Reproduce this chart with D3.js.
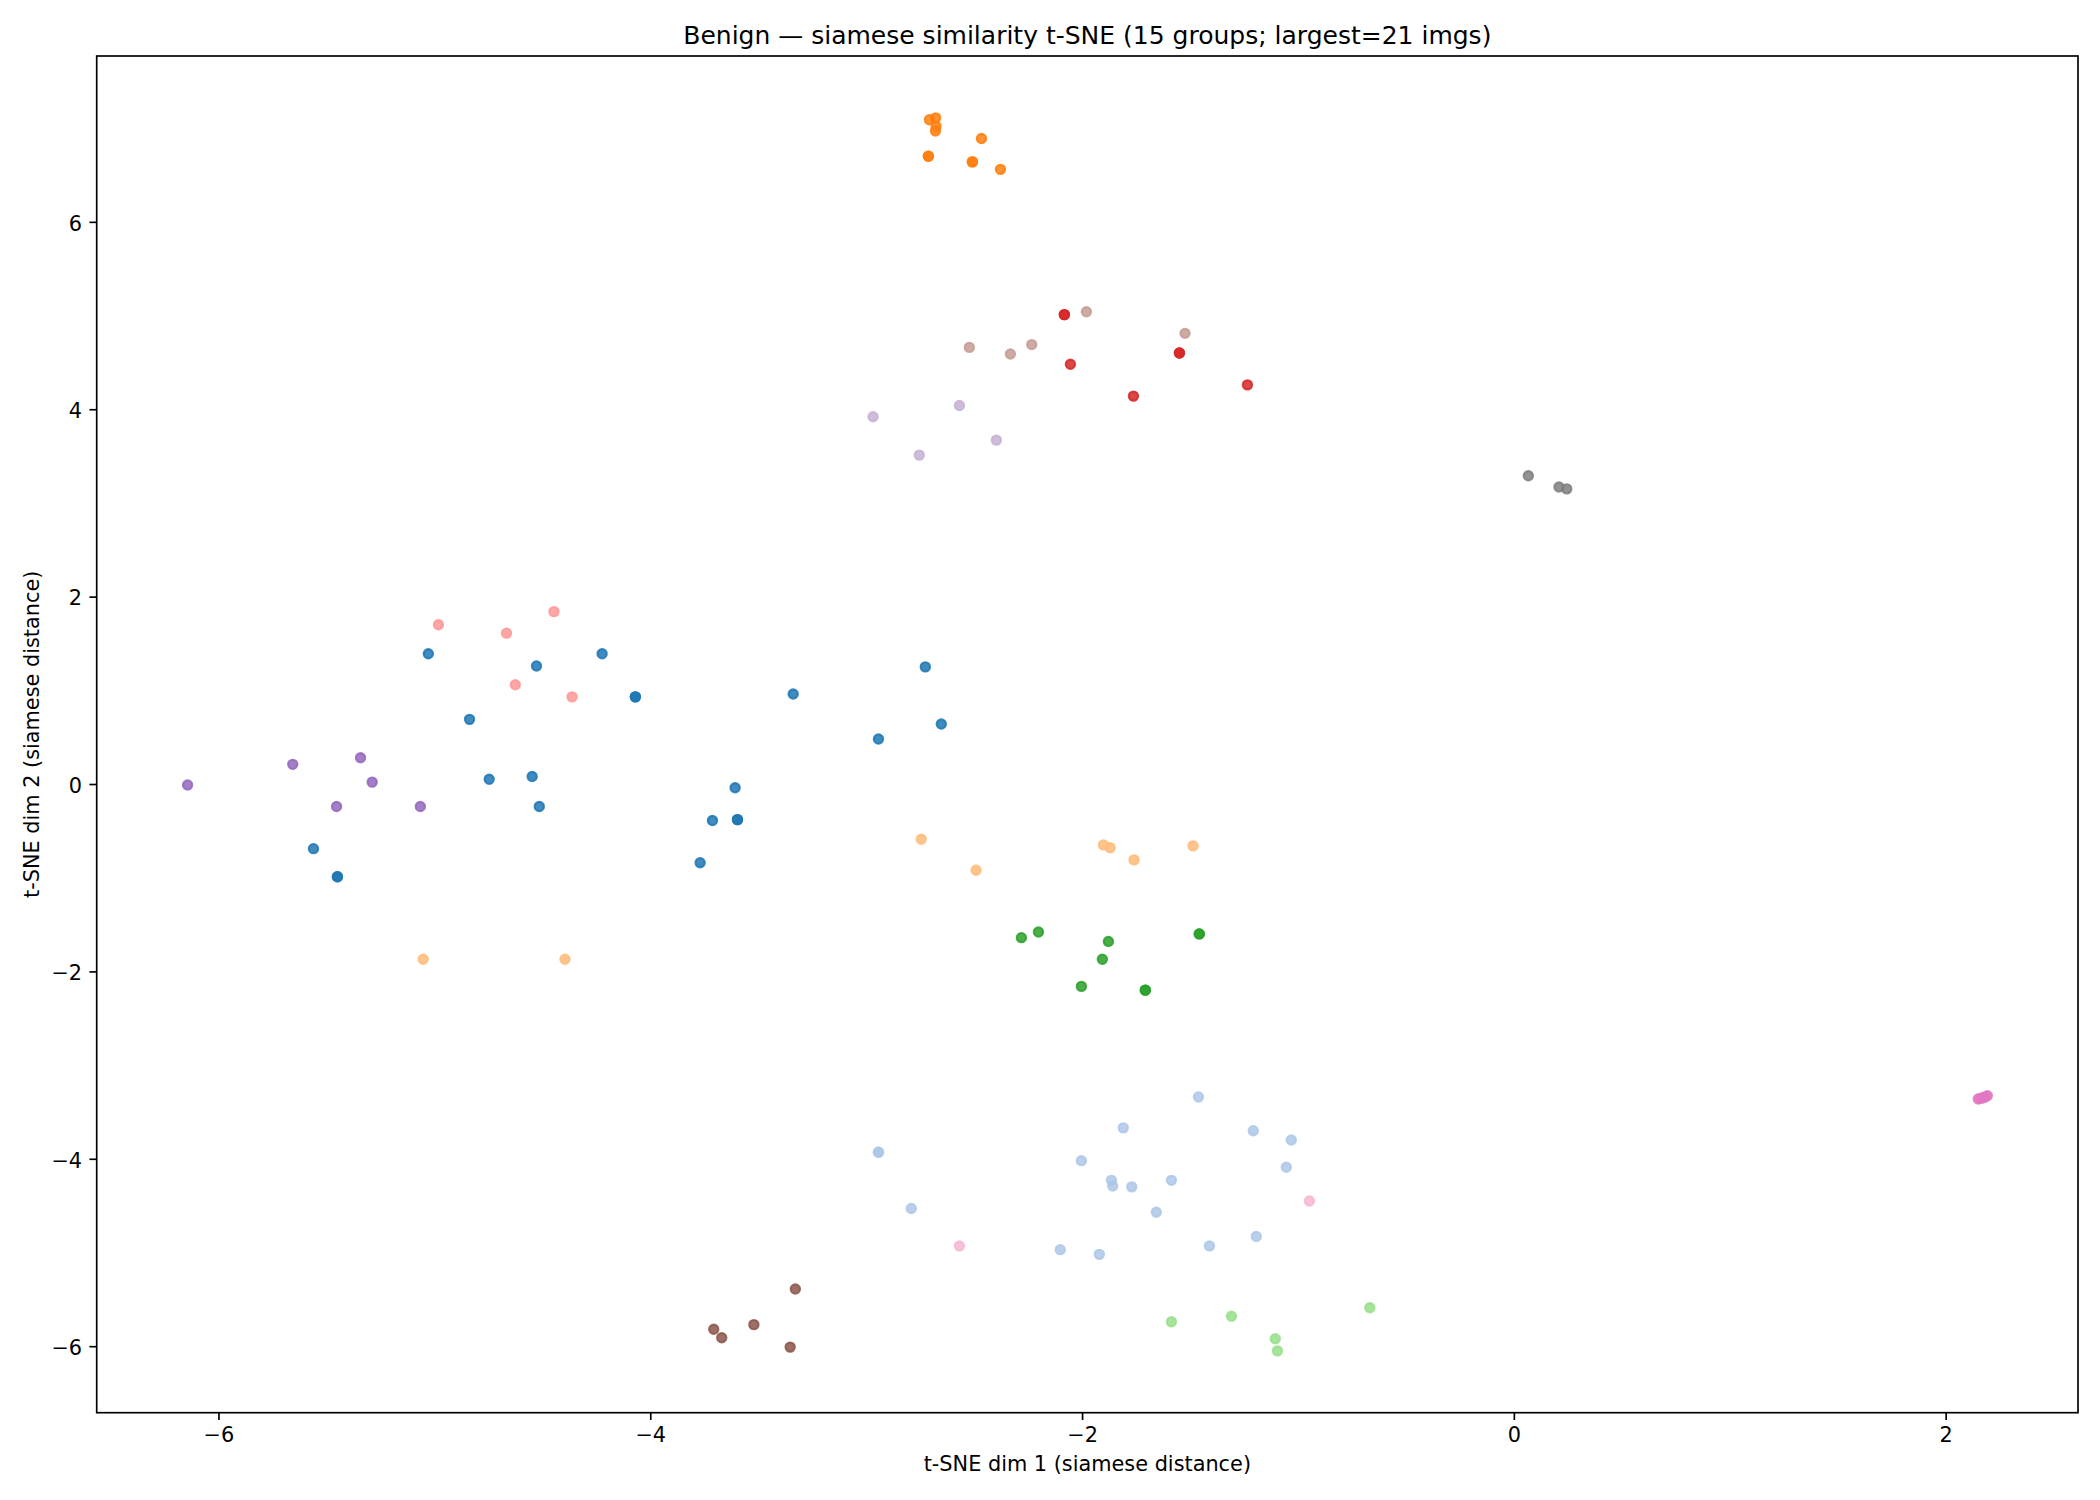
<!DOCTYPE html>
<html>
<head>
<meta charset="utf-8">
<script src="https://cdn.jsdelivr.net/npm/d3@7"></script>
<style>
    body { margin: 0; background: #fff; }
    .chart { width: 2100px; height: 1500px; }
    text { font-family: "DejaVu Sans", sans-serif; fill: #000; }
</style>
</head>
<body>
<div class="chart"></div>
<script>
//Global object for the chart logic
let chart = {};

//Title and axis labels
const titleText = "Benign \u2014 siamese similarity t-SNE (15 groups; largest=21 imgs)";
const xLabelText = "t-SNE dim 1 (siamese distance)";
const yLabelText = "t-SNE dim 2 (siamese distance)";

const xTicks = [-6, -4, -2, 0, 2];
const yTicks = [-6, -4, -2, 0, 2, 4, 6];
const xDomain = [-6.564, 2.613];
const yDomain = [-6.71, 7.77];

//tab20 palette, one colour per group
const groupColors = [
    "#1f77b4", "#aec7e8", "#ff7f0e", "#ffbb78", "#2ca02c",
    "#98df8a", "#d62728", "#ff9896", "#9467bd", "#c5b0d5",
    "#8c564b", "#c49c94", "#e377c2", "#f7b6d2", "#7f7f7f"
];

//Points per group, [dim1, dim2]
const g00 = [[-5.028, 1.39], [-4.527, 1.26], [-4.223, 1.39], [-4.837, 0.69], [-4.069, 0.93], [-4.069, 0.93],
    [-3.338, 0.96], [-4.746, 0.05], [-4.547, 0.08], [-4.514, -0.24], [-3.607, -0.04], [-3.712, -0.39],
    [-3.596, -0.38], [-3.596, -0.38], [-3.769, -0.84], [-5.560, -0.69], [-5.449, -0.99], [-5.449, -0.99],
    [-2.726, 1.25], [-2.652, 0.64], [-2.943, 0.48]];
const g01 = [[-1.461, -3.34], [-1.809, -3.67], [-1.207, -3.70], [-1.031, -3.80], [-2.943, -3.93], [-2.943, -3.93],
    [-2.003, -4.02], [-1.864, -4.23], [-1.858, -4.29], [-1.770, -4.30], [-1.586, -4.23], [-1.054, -4.09],
    [-1.656, -4.57], [-2.791, -4.53], [-2.101, -4.97], [-1.920, -5.02], [-1.410, -4.93], [-1.193, -4.83]];
const g02 = [[-2.707, 7.09], [-2.678, 7.11], [-2.676, 7.02], [-2.679, 6.97], [-2.466, 6.89],
    [-2.712, 6.70], [-2.712, 6.70], [-2.508, 6.64], [-2.508, 6.64], [-2.378, 6.56]];
const g03 = [[-5.052, -1.87], [-4.395, -1.87], [-2.745, -0.59], [-2.491, -0.92],
    [-1.901, -0.65], [-1.870, -0.68], [-1.759, -0.81], [-1.486, -0.66]];
const g04 = [[-2.281, -1.64], [-2.202, -1.58], [-1.878, -1.68], [-1.906, -1.87], [-1.457, -1.60],
    [-1.457, -1.60], [-2.003, -2.16], [-1.707, -2.20], [-1.707, -2.20]];
const g05 = [[-1.586, -5.74], [-1.308, -5.68], [-1.105, -5.92], [-1.095, -6.05], [-0.667, -5.59]];
const g06 = [[-2.082, 5.01], [-2.082, 5.01], [-2.054, 4.48], [-1.549, 4.60], [-1.549, 4.60],
    [-1.762, 4.14], [-1.234, 4.26]];
const g07 = [[-4.981, 1.70], [-4.666, 1.61], [-4.446, 1.84], [-4.625, 1.06], [-4.362, 0.93]];
const g08 = [[-6.143, -0.01], [-5.656, 0.21], [-5.342, 0.28], [-5.288, 0.02], [-5.453, -0.24], [-5.065, -0.24]];
const g09 = [[-2.568, 4.04], [-2.397, 3.67], [-2.754, 3.51], [-2.968, 3.92]];
const g10 = [[-3.328, -5.39], [-3.706, -5.82], [-3.669, -5.91], [-3.520, -5.77], [-3.352, -6.01]];
const g11 = [[-1.980, 5.04], [-1.523, 4.81], [-2.522, 4.66], [-2.233, 4.69], [-2.332, 4.59]];
const g12 = [[2.151, -3.362], [2.162, -3.355], [2.172, -3.348], [2.183, -3.340], [2.193, -3.327]];
const g13 = [[-2.568, -4.93], [-0.947, -4.45]];
const g14 = [[0.067, 3.29], [0.209, 3.17], [0.245, 3.15]];

const groupData = [g00, g01, g02, g03, g04, g05, g06, g07, g08, g09, g10, g11, g12, g13, g14];


init();

function init() {
    //flatten groups into one list of points with their group index
    chart.points = [];
    groupData.forEach((pts, i) => {
        pts.forEach(p => chart.points.push({ x: p[0], y: p[1], group: i }));
    });

    appendElements();
    update();
}


function update() {
    setDimensions();
    setScales();
    updateElements();
}


function setDimensions() {
    //pt -> px at 150 dpi
    chart.pt = 150 / 72;

    chart.margin = {
        top: 56,
        right: 22,
        bottom: 87.3,
        left: 96.7
    };

    chart.fullWidth = 2100;
    chart.fullHeight = 1500;

    chart.width = chart.fullWidth - chart.margin.left - chart.margin.right;
    chart.height = chart.fullHeight - chart.margin.top - chart.margin.bottom;
}


function setScales() {
    chart.x = d3.scaleLinear()
        .domain(xDomain)
        .range([0, chart.width]);

    chart.y = d3.scaleLinear()
        .domain(yDomain)
        .range([chart.height, 0]);
}


function appendElements() {
    chart.svg = d3.select(".chart").append("svg");

    chart.plot = chart.svg.append("g").attr("class", "chart-g");

    chart.dots = chart.plot.append("g").attr("class", "dots")
        .selectAll("circle.dot")
        .data(chart.points)
        .enter().append("circle")
        .attr("class", "dot");

    chart.frame = chart.plot.append("rect").attr("class", "frame");

    chart.xAxis = chart.plot.append("g").attr("class", "x-axis");
    chart.yAxis = chart.plot.append("g").attr("class", "y-axis");

    chart.title = chart.svg.append("text").attr("class", "title").text(titleText);
    chart.xLabel = chart.svg.append("text").attr("class", "x-label").text(xLabelText);
    chart.yLabel = chart.svg.append("text").attr("class", "y-label").text(yLabelText);
}


function updateElements() {
    let pt = chart.pt;

    chart.svg.attr("width", chart.fullWidth);
    chart.svg.attr("height", chart.fullHeight);

    chart.plot.attr("transform", `translate(${chart.margin.left},${chart.margin.top})`);

    //scatter, s=20 -> marker diameter sqrt(20) pt
    chart.dots
        .attr("cx", d => chart.x(d.x))
        .attr("cy", d => chart.y(d.y))
        .attr("r", Math.sqrt(20) / 2 * pt)
        .style("fill", d => groupColors[d.group])
        .style("fill-opacity", 0.85)
        .style("stroke", d => groupColors[d.group])
        .style("stroke-opacity", 0.85)
        .style("stroke-width", 1.0 * pt);

    chart.frame
        .attr("x", 0)
        .attr("y", 0)
        .attr("width", chart.width)
        .attr("height", chart.height)
        .style("fill", "none")
        .style("stroke", "#000")
        .style("stroke-width", 0.8 * pt);

    chart.xAxis
        .attr("transform", `translate(0,${chart.height})`)
        .call(d3.axisBottom(chart.x)
            .tickValues(xTicks)
            .tickFormat(d3.format("d"))
            .tickSize(3.5 * pt)
            .tickSizeOuter(0)
            .tickPadding(3.5 * pt));

    chart.yAxis
        .call(d3.axisLeft(chart.y)
            .tickValues(yTicks)
            .tickFormat(d3.format("d"))
            .tickSize(3.5 * pt)
            .tickSizeOuter(0)
            .tickPadding(3.5 * pt));

    chart.plot.selectAll(".x-axis .domain, .y-axis .domain").remove();
    chart.plot.selectAll(".tick line")
        .style("stroke", "#000")
        .style("stroke-width", 0.8 * pt);
    chart.plot.selectAll(".tick text")
        .style("font-family", "'DejaVu Sans', sans-serif")
        .style("font-size", (10 * pt) + "px")
        .style("fill", "#000");
    chart.yAxis.selectAll(".tick text").attr("dy", "0.4em");

    let cx = chart.margin.left + chart.width / 2;
    let cy = chart.margin.top + chart.height / 2;

    chart.title
        .attr("x", cx)
        .attr("y", chart.margin.top - 6 * pt)
        .attr("text-anchor", "middle")
        .style("font-size", (12 * pt) + "px");

    chart.xLabel
        .attr("x", cx)
        .attr("y", 1471)
        .attr("text-anchor", "middle")
        .style("font-size", (10 * pt) + "px");

    chart.yLabel
        .attr("transform", `translate(39,${cy}) rotate(-90)`)
        .attr("text-anchor", "middle")
        .style("font-size", (10 * pt) + "px");
}
</script>
</body>
</html>
